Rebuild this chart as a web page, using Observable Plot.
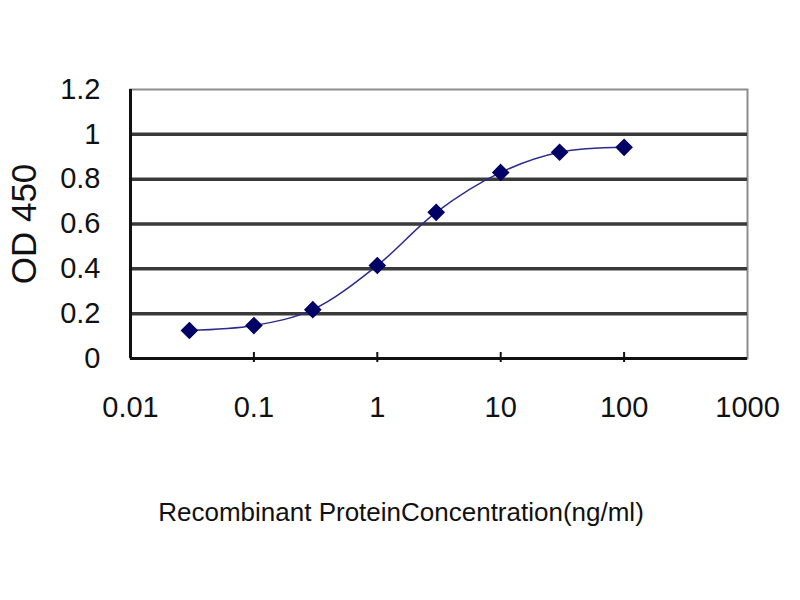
<!DOCTYPE html>
<html>
<head>
<meta charset="utf-8">
<script src="https://cdn.jsdelivr.net/npm/d3@7"></script>
<script src="https://cdn.jsdelivr.net/npm/@observablehq/plot@0.6"></script>
<style>
  body { margin: 0; background: #fff; }
</style>
</head>
<body>
<div id="chart"></div>
<script>
// values
const concentration = [0.03, 0.1, 0.3, 1, 3, 10, 30, 100];
const od450 = [0.125, 0.147, 0.218, 0.415, 0.652, 0.83, 0.92, 0.942];
const xTicks = [0.01, 0.1, 1, 10, 100, 1000];
const yTicks = [0, 0.2, 0.4, 0.6, 0.8, 1, 1.2];
const gridTicks = [0.2, 0.4, 0.6, 0.8, 1];
const xTitle = "Recombinant ProteinConcentration(ng/ml)";
const yTitle = "OD 450";

const data = concentration.map((c, i) => ({c, od: od450[i]}));

let chart = Plot.plot({
  width: 800,
  height: 600,
  marginLeft: 130,
  marginRight: 53,
  marginTop: 89,
  marginBottom: 242,
  style: {
    color: "#111",
    fontFamily: "Liberation Sans, Arial, sans-serif",
    background: "#fff"
  },
  x: {type: "log", domain: [0.01, 1000]},
  y: {domain: [0, 1.2]},
  marks: [
    Plot.frame({stroke: "#8c8c8c", strokeWidth: 2}),
    Plot.gridY(gridTicks, {stroke: "#3a3a3a", strokeOpacity: 1, strokeWidth: 3.5}),
    Plot.ruleX([0.01], {stroke: "#111", strokeWidth: 3}),
    Plot.ruleY([0], {stroke: "#111", strokeWidth: 3}),
    Plot.axisX(xTicks.slice(1, -1), {tickSize: 10, dy: -6, text: null, label: null, stroke: "#111", strokeWidth: 2}),
    Plot.axisX(xTicks, {tickSize: 0, tickPadding: 38, tickFormat: d => String(d), fontSize: 29, label: null}),
    Plot.axisY(yTicks, {tickSize: 0, tickPadding: 30, tickFormat: d => String(d), fontSize: 29, label: null}),
    Plot.text([yTitle], {frameAnchor: "left", textAnchor: "middle", rotate: -90, dx: -106, fontSize: 35}),
    Plot.text([xTitle], {frameAnchor: "bottom", dx: -38, dy: 162, fontSize: 26}),
    Plot.line(data, {x: "c", y: "od", curve: "catmull-rom", stroke: "#2a2a8a", strokeWidth: 1.5}),
    Plot.dot(data, {x: "c", y: "od", symbol: "diamond2", r: 7, fill: "#000066", stroke: "#000066"})
  ]
});
d3.select("#chart").append(() => chart);
</script>
</body>
</html>
